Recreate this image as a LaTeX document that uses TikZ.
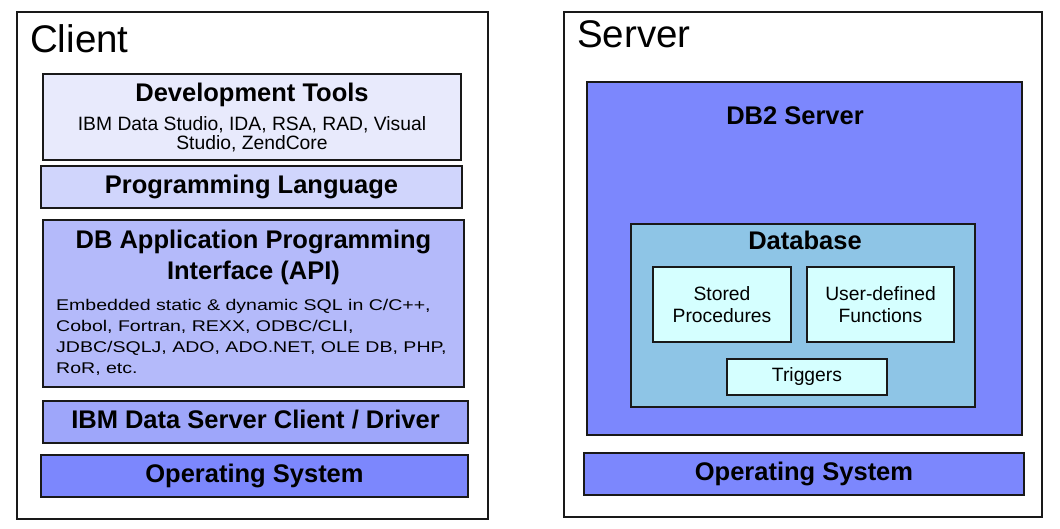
\documentclass[tikz,border=0pt]{standalone}
\usepackage{fontspec}
\setmainfont{Liberation Sans}
\newfontfamily\apifont[FakeStretch=1.26]{Liberation Sans}

\definecolor{devfill}{HTML}{E8EAFC}
\definecolor{langfill}{HTML}{D0D5FC}
\definecolor{apifill}{HTML}{B4BAFA}
\definecolor{drvfill}{HTML}{9EA6FA}
\definecolor{osfill}{HTML}{7C87FD}
\definecolor{dbfill}{HTML}{8EC5E6}
\definecolor{objfill}{HTML}{D5FFFF}

\begin{document}
\setlength{\lineskiplimit}{-20pt}
\begin{tikzpicture}[
    x=1pt, y=-1pt,
    panel/.style={rectangle, draw=black!90, line width=1.5pt, inner sep=0pt},
    big/.style={font=\fontsize{38.5}{40}\selectfont, anchor=base west, inner sep=0pt},
    ttl/.style={font=\fontsize{25.5}{31}\selectfont\bfseries, inner sep=0pt},
    bar/.style={panel, font=\fontsize{25.5}{31}\selectfont\bfseries,
                text height=18.5pt, text depth=5.3pt},
    txt/.style={font=\fontsize{19.3}{18.5}\selectfont, inner sep=0pt},
    obj/.style={panel, fill=objfill, align=center,
                font=\fontsize{19.3}{22.7}\selectfont},
  ]
  \useasboundingbox (0,0) rectangle (1060,529);

  % Client side
  \node[panel, minimum width=471pt, minimum height=507pt] (client) at (252.5,265.5) {};
  \node[big] (clientlbl) at (30,53) {Client};

  \node[panel, fill=devfill, minimum width=418pt, minimum height=86pt] (dev) at (252,117) {};
  \node[ttl, anchor=base] (devttl) at (252,102) {Development Tools};
  \node[txt, anchor=north, align=center] (devtxt) at (252,116.5) {IBM Data Studio, IDA, RSA, RAD, Visual\\Studio, ZendCore};

  \node[bar, fill=langfill, minimum width=421pt, minimum height=42pt] (lang) at (251.5,187) {Programming Language};

  \node[panel, fill=apifill, minimum width=421pt, minimum height=167pt] (api) at (253.5,303.5) {};
  \node[ttl, anchor=north, align=center] (apittl) at (253.5,230) {DB Application Programming\\Interface (API)};
  \node[anchor=north west, align=left, inner sep=0pt,
        font=\apifont\fontsize{15.5}{21}\selectfont] (apitxt) at (56,299.4)
    {Embedded static \& dynamic SQL in C/C++,\\Cobol, Fortran, REXX, ODBC/CLI,\\JDBC/SQLJ, ADO, ADO.NET, OLE DB, PHP,\\RoR, etc.};

  \node[bar, fill=drvfill, minimum width=425pt, minimum height=42pt] (drv) at (255.5,422) {IBM Data Server Client / Driver};
  \node[bar, fill=osfill, minimum width=427pt, minimum height=42pt] (cos) at (254.5,476) {Operating System};

  % Server side
  \node[panel, minimum width=478pt, minimum height=505pt] (server) at (803,264.5) {};
  \node[big] (serverlbl) at (577,48) {Server};

  \node[panel, fill=osfill, minimum width=435pt, minimum height=353pt] (db2) at (804.5,258.5) {};
  \node[ttl, anchor=base] (db2ttl) at (795,125) {DB2 Server};

  \node[panel, fill=dbfill, minimum width=344pt, minimum height=183pt] (db) at (803,315.5) {};
  \node[ttl, anchor=base] (dbttl) at (805,250) {Database};

  \node[obj, minimum width=138pt, minimum height=75pt] (sp) at (722,304.5) {Stored\\Procedures};
  \node[obj, minimum width=147pt, minimum height=75pt] (udf) at (880.5,304.5) {User-defined\\Functions};
  \node[obj, minimum width=160pt, minimum height=36pt] (trig) at (807,377) {Triggers};

  \node[bar, fill=osfill, minimum width=440pt, minimum height=42pt] (sos) at (804,474) {Operating System};

\end{tikzpicture}
\end{document}
